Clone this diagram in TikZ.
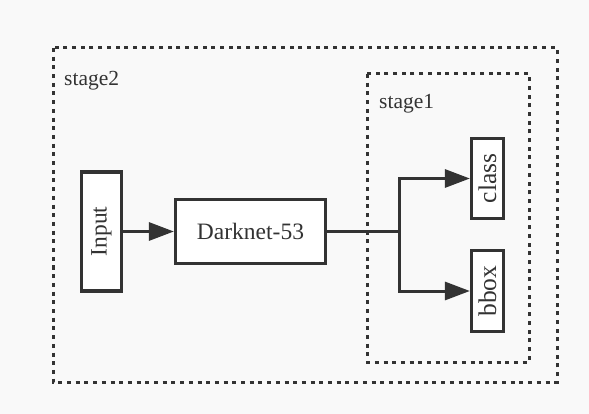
\documentclass[tikz,border=0pt]{standalone}
\usepackage{fontspec}
\setmainfont{Liberation Serif}
\usetikzlibrary{arrows.meta}
\definecolor{ink}{HTML}{333333}
\definecolor{paper}{HTML}{F9F9F9}
\newcommand{\upright}[1]{\rotatebox{90}{#1}}
\begin{document}
\begin{tikzpicture}[x=1pt,y=-1pt,
  box/.style={draw=ink, line width=3.2pt, fill=white, inner sep=0pt,
    text=ink, font=\fontsize{23.5}{27}\selectfont},
  headbox/.style={box, font=\fontsize{25.5}{29}\selectfont},
  frame/.style={draw=ink, line width=3pt, dash pattern=on 4pt off 4.7pt},
  link/.style={draw=ink, line width=3pt, -{Triangle[length=25pt,width=18pt]}},
  tag/.style={anchor=base west, inner sep=0pt, text=ink,
    font=\fontsize{21.5}{25}\selectfont}]
  % canvas
  \fill[paper] (0,0) rectangle (589,414);
  \useasboundingbox (0,0) rectangle (589,414);

  % stage frames
  \draw[frame] (53,48) rectangle (557,382);
  \draw[frame] (367,74) rectangle (529,362);
  \node[tag] (s2) at (64,86) {stage2};
  \node[tag] (s1) at (379,109) {stage1};

  % blocks
  \node[box, minimum width=40pt, minimum height=119pt] (in) at (101.5,231.5) {\upright{Input}};
  \node[box, minimum width=150pt, minimum height=64pt] (dk) at (250.5,231.5) {Darknet-53};
  \node[headbox, minimum width=32pt, minimum height=80pt] (cls) at (487.5,178.5) {\upright{class}};
  \node[headbox, minimum width=32pt, minimum height=81pt] (bb) at (487.5,291) {\upright{bbox}};

  % connectors
  \coordinate (jn) at (399,231.5);
  \draw[link] (in.east) -- (dk.west);
  \draw[link] (dk.east) -- (jn) |- (cls.west);
  \draw[link] (jn) |- (bb.west);
\end{tikzpicture}
\end{document}
